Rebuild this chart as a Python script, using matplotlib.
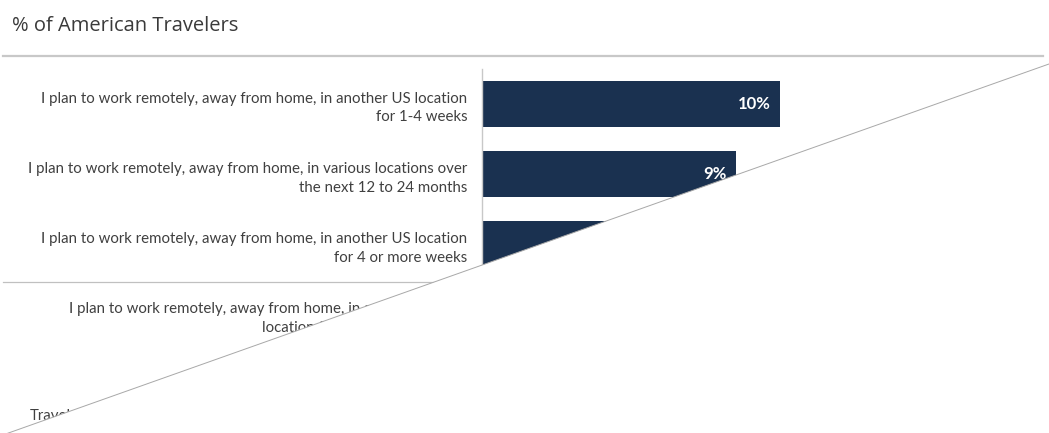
import matplotlib.pyplot as plt
from matplotlib.patches import Polygon
from matplotlib.lines import Line2D

# data (the lower bars are hidden under the torn-off corner)
categories = [
    "I plan to work remotely, away from home, in another US location\nfor 1-4 weeks",
    "I plan to work remotely, away from home, in various locations over\nthe next 12 to 24 months",
    "I plan to work remotely, away from home, in another US location\nfor 4 or more weeks",
    "I plan to work remotely, away from home, in an international\nlocation for more than 4 weeks",
]
values = [10.2, 8.7, 8.3, 7.5]
value_labels = ["10%", "9%", "8%", "7%"]
title = "% of American Travelers"
cut_label = "Travel"

W, H = 1049, 433
bar_color = "#1a3150"

fig = plt.figure(figsize=(W / 100, H / 100), dpi=100)
fig.patch.set_facecolor("white")

# axes placed so the value axis starts at the grey spine (~x=482)
ax = fig.add_axes([481.5 / W, 0, (1040 - 481.5) / W, (H - 69) / H])
y = list(range(len(categories)))
ax.barh(y, values, height=0.655, color=bar_color, zorder=2)
ax.set_xlim(0, 558.5 / 29.3)
ax.set_ylim((H - 104) / 70.2, -(104 - 69) / 70.2)

ax.set_yticks(y)
ax.set_yticklabels(categories, fontsize=10.8, color="#404040", family=["Lato", "DejaVu Sans"],
                   linespacing=1.45)
ax.tick_params(axis="y", length=0, pad=10)
ax.set_xticks([])
for s in ["top", "right", "bottom"]:
    ax.spines[s].set_visible(False)
ax.spines["left"].set_color("#c8c8c8")
ax.spines["left"].set_linewidth(1.0)

for yi, v, lab in zip(y, values, value_labels):
    ax.annotate(lab, (v, yi), xytext=(-7, 0), textcoords="offset points",
                ha="right", va="center", color="white", fontsize=12,
                fontweight="bold", family=["Lato", "DejaVu Sans"], zorder=3)

# title and separator lines
fig.text(12 / W, 1 - 26 / H, title, fontsize=14.5, color="#3a3a3a",
         family=["Open Sans", "DejaVu Sans"], va="center", ha="left")
fig.add_artist(Line2D([3 / W, 1043 / W], [1 - 56 / H] * 2, transform=fig.transFigure,
                      color="#c8c8c8", lw=1.6))
fig.add_artist(Line2D([3 / W, 1 - 3 / W], [1 - 282 / H] * 2, transform=fig.transFigure,
                      color="#c0c0c0", lw=0.9, zorder=5))

fig.text(30 / W, 1 - 416 / H, cut_label, fontsize=10.8, color="#404040",
         family=["Lato", "DejaVu Sans"], va="center", ha="left")

# white torn-off corner with its thin grey edge
x0, y0, x1, y1 = 0, 436, W, 64
corner = Polygon([(x0 / W, 1 - y0 / H), (x1 / W, 1 - y1 / H), (1, 0), (0, 0)],
                 closed=True, transform=fig.transFigure, facecolor="white",
                 edgecolor="none", zorder=10)
fig.add_artist(corner)
fig.add_artist(Line2D([x0 / W, x1 / W], [1 - y0 / H, 1 - y1 / H], transform=fig.transFigure,
                      color="#a8a8a8", lw=0.7, zorder=11))

fig.savefig("out.png", dpi=100, facecolor="white")
